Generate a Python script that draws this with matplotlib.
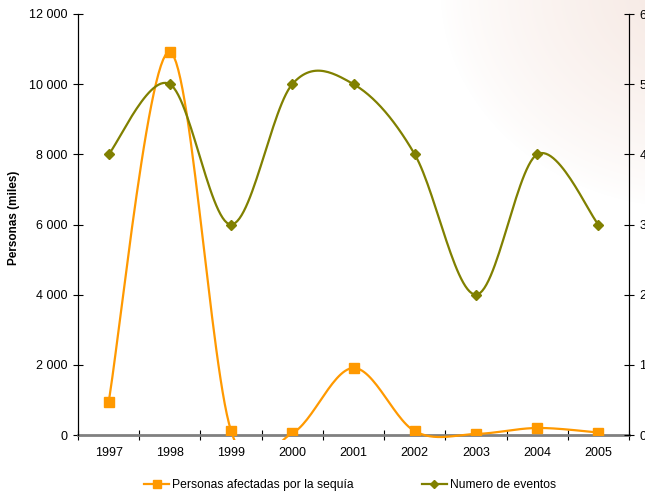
import numpy as np
import matplotlib
matplotlib.use('Agg')
from matplotlib import pyplot as plt
from matplotlib.patches import Rectangle
from matplotlib.ticker import FuncFormatter

years = ['1997', '1998', '1999', '2000', '2001', '2002', '2003', '2004', '2005']
personas = [940, 10920, 120, 50, 1910, 110, 30, 200, 70]
eventos = [4, 5, 3, 5, 5, 4, 2, 4, 3]

ORANGE = '#FF9900'
OLIVE = '#808000'

plt.rcParams['font.family'] = ['Liberation Sans', 'DejaVu Sans']


def smooth(y, n=30):
    # Excel-style smoothed line: cubic bezier, control points from neighbours
    x = np.arange(len(y), dtype=float)
    y = np.asarray(y, dtype=float)
    px = np.concatenate([[x[0]], x, [x[-1]]])
    py = np.concatenate([[y[0]], y, [y[-1]]])
    xs, ys = [], []
    t = np.linspace(0, 1, n)
    for i in range(len(y) - 1):
        p0 = np.array([px[i + 1], py[i + 1]])
        p3 = np.array([px[i + 2], py[i + 2]])
        c1 = p0 + (p3 - np.array([px[i], py[i]])) / 6.0
        c2 = p3 - (np.array([px[i + 3], py[i + 3]]) - p0) / 6.0
        b = (((1 - t) ** 3)[:, None] * p0 + (3 * (1 - t) ** 2 * t)[:, None] * c1
             + (3 * (1 - t) * t ** 2)[:, None] * c2 + (t ** 3)[:, None] * p3)
        xs.extend(b[:, 0])
        ys.extend(b[:, 1])
    return np.array(xs), np.array(ys)


fig = plt.figure(figsize=(6.45, 4.95), dpi=100)

# faint pink glow in the top right corner
bg = fig.add_axes([0, 0, 1, 1], zorder=-10)
H, W = 495, 645
yy, xx = np.mgrid[0:H, 0:W]
d = np.sqrt((xx - 690.0) ** 2 + ((yy + 10.0) * 1.15) ** 2)
a = np.clip(1 - d / 250.0, 0, 1) ** 0.8
img = np.ones((H, W, 3))
tint = np.array([246, 232, 226]) / 255.0
img = img * (1 - a[..., None]) + tint * a[..., None]
bg.imshow(img, aspect='auto', extent=[0, 1, 0, 1])
bg.axis('off')

ax = fig.add_axes([78 / 645, 1 - 435 / 495, (629 - 78) / 645, (435 - 14) / 495])
ax.set_facecolor('none')
ax2 = ax.twinx()

x = np.arange(len(years))
clip = Rectangle((0, -0.012), 1, 1.03, transform=ax.transAxes, visible=False)
ax.add_patch(clip)

sx, sy = smooth(personas)
l1, = ax.plot(sx, sy, color=ORANGE, lw=1.6, zorder=3)
l1.set_clip_path(clip)
ax.plot(x, personas, ls='none', marker='s', ms=7, color=ORANGE, zorder=4)

ex, ey = smooth(eventos)
ax2.plot(ex, ey, color=OLIVE, lw=1.6, zorder=3)
ax2.plot(x, eventos, ls='none', marker='D', ms=5.5, color=OLIVE, zorder=4)

ax.set_xlim(-0.5, len(years) - 0.5)
ax.set_ylim(0, 12000)
ax2.set_ylim(0, 6)
ax.set_yticks(np.arange(0, 12001, 2000))
ax.yaxis.set_major_formatter(FuncFormatter(lambda v, p: '{:,.0f}'.format(v).replace(',', ' ')))
ax2.set_yticks(np.arange(0, 7, 1))

ax.set_xticks(x)
ax.set_xticklabels(years)
ax.set_xticks(np.arange(-0.5, len(years), 1), minor=True)
ax.tick_params(axis='x', which='major', length=0, pad=9, labelsize=9)
ax.tick_params(axis='x', which='minor', direction='inout', length=7, width=0.8)
ax.tick_params(axis='y', direction='inout', length=7, width=0.8, labelsize=9, pad=4)
ax2.tick_params(axis='y', direction='inout', length=7, width=0.8, labelsize=9, pad=4)

for a_ in (ax, ax2):
    a_.spines['top'].set_visible(False)
    a_.spines['left'].set_linewidth(0.8)
    a_.spines['right'].set_linewidth(0.8)
    a_.spines['bottom'].set_visible(False)
ax.spines['bottom'].set_visible(True)
ax.spines['bottom'].set_color('#808080')
ax.spines['bottom'].set_linewidth(2)
ax.spines['bottom'].set_zorder(2)

fig.text(14 / 645, 1 - 218 / 495, 'Personas (miles)', rotation=90, fontsize=8.5,
         fontweight='bold', ha='center', va='center')

h1, = ax.plot([], [], color=ORANGE, lw=1.6, marker='s', ms=5.5)
h2, = ax.plot([], [], color=OLIVE, lw=1.6, marker='D', ms=4)
fig.legend([h1, h2], ['Personas afectadas por la sequía', 'Numero de eventos'],
           loc='center', bbox_to_anchor=(350 / 645, 1 - 485 / 495), ncol=2, frameon=False,
           fontsize=8.7, handlelength=2.1, handletextpad=0.25, columnspacing=5.6)

fig.savefig('out.png', dpi=100)
